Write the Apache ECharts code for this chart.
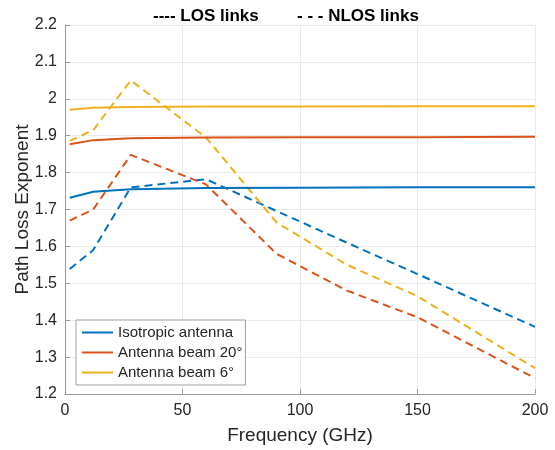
<!DOCTYPE html>
<html>
<head>
<meta charset="utf-8">
<script src="https://cdn.jsdelivr.net/npm/echarts@6/dist/echarts.min.js"></script>
<style>html,body{margin:0;padding:0;background:#fff}#c{width:555px;height:450px}</style>
</head>
<body>
<div id="c"></div>
<script>
const freqLos = [2, 12, 28, 60, 100, 150, 200];
const isoLos = [1.732, 1.748, 1.755, 1.758, 1.759, 1.760, 1.760];
const beam20Los = [1.877, 1.888, 1.893, 1.895, 1.896, 1.896, 1.897];
const beam6Los = [1.970, 1.976, 1.978, 1.979, 1.979, 1.980, 1.980];

const freqNlos = [2, 12, 28, 60, 90, 120, 150, 200];
const isoNlos = [1.539, 1.59, 1.760, 1.782, 1.696, 1.610, 1.525, 1.382];
const beam20Nlos = [1.670, 1.70, 1.848, 1.768, 1.58, 1.48, 1.408, 1.243];
const beam6Nlos = [1.886, 1.915, 2.050, 1.895, 1.665, 1.55, 1.465, 1.27];

const seriesNames = ['Isotropic antenna', 'Antenna beam 20°', 'Antenna beam 6°'];
const colors = ['#0072BD', '#D95319', '#EDB120'];
const yTicks = {min: 1.2, max: 2.2, interval: 0.1};
const xTicks = {min: 0, max: 200, interval: 50};

const pairs = (xs, ys) => xs.map((x, i) => [x, ys[i]]);
const losSets = [isoLos, beam20Los, beam6Los];
const nlosSets = [isoNlos, beam20Nlos, beam6Nlos];

const series = [];
losSets.forEach((d, i) => series.push({
  name: seriesNames[i], type: 'line', data: pairs(freqLos, d), symbol: 'none',
  lineStyle: {color: colors[i], width: 2}, itemStyle: {color: colors[i]}, z: 3
}));
nlosSets.forEach((d, i) => series.push({
  name: seriesNames[i] + ' NLOS', type: 'line', data: pairs(freqNlos, d), symbol: 'none',
  lineStyle: {color: colors[i], width: 2, type: [8, 5]}, itemStyle: {color: colors[i]}, z: 2
}));

const font = '"Liberation Sans", Arial, sans-serif';
const chart = echarts.init(document.getElementById('c'), null, {renderer: 'canvas'});
chart.setOption({
  animation: false,
  backgroundColor: '#fff',
  title: [
    {text: '---- LOS links', left: 148, top: 3, textStyle: {fontFamily: font, fontSize: 17, fontWeight: 'bold', color: '#000'}},
    {text: '- - - NLOS links', left: 292, top: 3, textStyle: {fontFamily: font, fontSize: 17, fontWeight: 'bold', color: '#000'}}
  ],
  grid: {left: 65, right: 20, top: 25, bottom: 56, containLabel: false, outerBoundsMode: 'none'},
  legend: {
    data: seriesNames, orient: 'vertical', left: 76, top: 320,
    icon: 'path://M0,0h31v2h-31z',
    itemWidth: 31, itemHeight: 2, itemGap: 3, padding: [4, 3, 4, 6],
    borderColor: '#a0a0a0', borderWidth: 1, backgroundColor: '#fff',
    textStyle: {fontFamily: font, fontSize: 15, color: '#262626', lineHeight: 17}
  },
  xAxis: {
    type: 'value', min: xTicks.min, max: xTicks.max, interval: xTicks.interval,
    name: 'Frequency (GHz)', nameLocation: 'middle', nameGap: 32, nameMoveOverlap: false,
    nameTextStyle: {fontFamily: font, fontSize: 19, color: '#262626'},
    axisLine: {show: true, lineStyle: {color: '#9a9a9a'}},
    axisTick: {show: true, inside: true, length: 5, lineStyle: {color: '#9a9a9a'}},
    axisLabel: {fontFamily: font, fontSize: 16, color: '#262626', margin: 9},
    splitLine: {show: true, lineStyle: {color: '#ebebeb'}}
  },
  yAxis: {
    type: 'value', min: yTicks.min, max: yTicks.max, interval: yTicks.interval,
    name: 'Path Loss Exponent', nameLocation: 'middle', nameGap: 33, nameMoveOverlap: false,
    nameTextStyle: {fontFamily: font, fontSize: 19, color: '#262626'},
    axisLine: {show: true, lineStyle: {color: '#9a9a9a'}},
    axisTick: {show: true, inside: true, length: 5, lineStyle: {color: '#9a9a9a'}},
    axisLabel: {fontFamily: font, fontSize: 16, color: '#262626', margin: 8,
      formatter: v => String(Math.round(v * 10) / 10)},
    splitLine: {show: true, lineStyle: {color: '#ebebeb'}}
  },
  series: series
});
</script>
</body>
</html>
